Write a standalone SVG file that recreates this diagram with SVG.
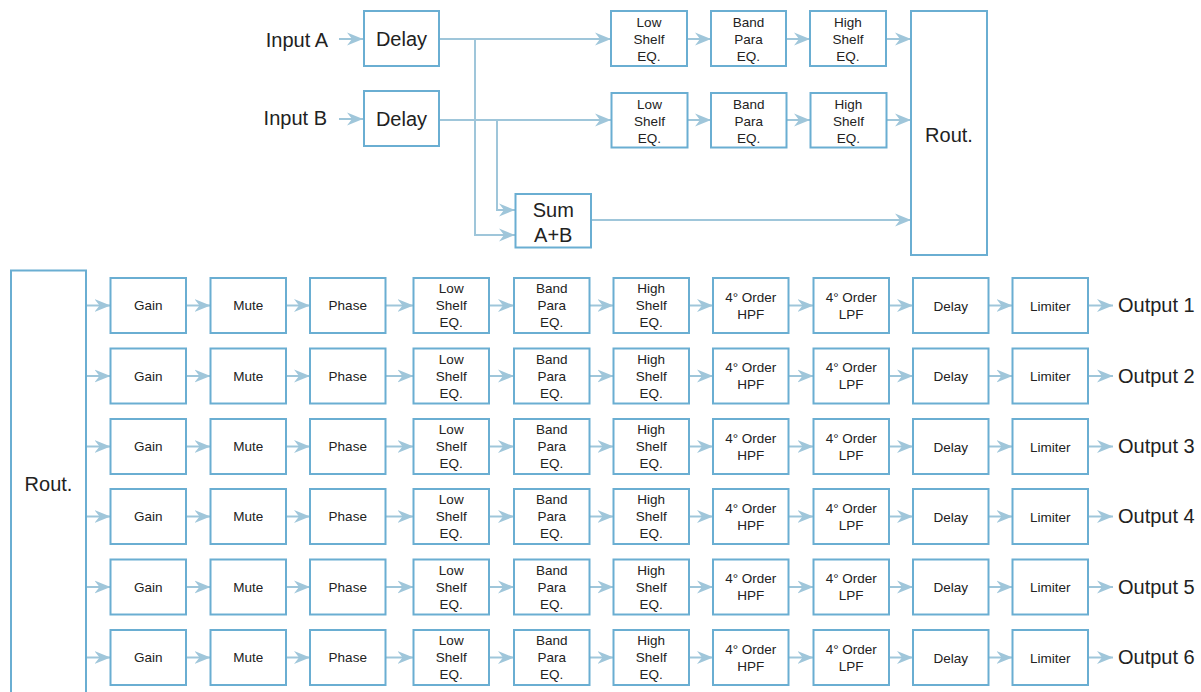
<svg xmlns="http://www.w3.org/2000/svg" width="1201" height="692" viewBox="0 0 1201 692">
<defs>
<style>
.b{fill:#fff;stroke:#6aaed2;stroke-width:2}
.c{fill:none;stroke:#9fc6da;stroke-width:2;marker-end:url(#ah)}
text{font-family:"Liberation Sans",Arial,sans-serif;fill:#222;text-anchor:middle;dominant-baseline:central}
.L{font-size:20px}
.s{font-size:13.5px}
.o{font-size:20px;text-anchor:start}
.i{font-size:20px;text-anchor:end}
</style>
<marker id="ah" markerUnits="userSpaceOnUse" markerWidth="17" markerHeight="14" refX="16" refY="7" orient="auto">
<path d="M0,0.5 L16,7 L0,13.5 L5,7 Z" fill="#9fc6da"/>
</marker>
</defs>
<rect width="1201" height="692" fill="#fff"/>
<g id="connectors">
<path class="c" d="M339,39 H363"/>
<path class="c" d="M339,119 H363"/>
<path class="c" d="M440,39 H611"/>
<path class="c" d="M475,39 V235 H515"/>
<path class="c" d="M440,120 H611"/>
<path class="c" d="M497,120 V210 H515"/>
<path class="c" d="M687,39 H711"/>
<path class="c" d="M786,39 H810"/>
<path class="c" d="M886,39 H911"/>
<path class="c" d="M687,120 H711"/>
<path class="c" d="M786,120 H810"/>
<path class="c" d="M886,120 H911"/>
<path class="c" d="M591,220 H911"/>
<path class="c" d="M87,305.5 H110.5"/><path class="c" d="M186,305.5 H210.5"/><path class="c" d="M286,305.5 H310"/><path class="c" d="M386,305.5 H413.5"/><path class="c" d="M489,305.5 H514"/><path class="c" d="M590,305.5 H613.5"/><path class="c" d="M689,305.5 H713"/><path class="c" d="M789,305.5 H813.5"/><path class="c" d="M889,305.5 H913"/><path class="c" d="M989,305.5 H1012.5"/><path class="c" d="M1088,305.5 H1113"/>
<path class="c" d="M87,376 H110.5"/><path class="c" d="M186,376 H210.5"/><path class="c" d="M286,376 H310"/><path class="c" d="M386,376 H413.5"/><path class="c" d="M489,376 H514"/><path class="c" d="M590,376 H613.5"/><path class="c" d="M689,376 H713"/><path class="c" d="M789,376 H813.5"/><path class="c" d="M889,376 H913"/><path class="c" d="M989,376 H1012.5"/><path class="c" d="M1088,376 H1113"/>
<path class="c" d="M87,446.5 H110.5"/><path class="c" d="M186,446.5 H210.5"/><path class="c" d="M286,446.5 H310"/><path class="c" d="M386,446.5 H413.5"/><path class="c" d="M489,446.5 H514"/><path class="c" d="M590,446.5 H613.5"/><path class="c" d="M689,446.5 H713"/><path class="c" d="M789,446.5 H813.5"/><path class="c" d="M889,446.5 H913"/><path class="c" d="M989,446.5 H1012.5"/><path class="c" d="M1088,446.5 H1113"/>
<path class="c" d="M87,516.5 H110.5"/><path class="c" d="M186,516.5 H210.5"/><path class="c" d="M286,516.5 H310"/><path class="c" d="M386,516.5 H413.5"/><path class="c" d="M489,516.5 H514"/><path class="c" d="M590,516.5 H613.5"/><path class="c" d="M689,516.5 H713"/><path class="c" d="M789,516.5 H813.5"/><path class="c" d="M889,516.5 H913"/><path class="c" d="M989,516.5 H1012.5"/><path class="c" d="M1088,516.5 H1113"/>
<path class="c" d="M87,587 H110.5"/><path class="c" d="M186,587 H210.5"/><path class="c" d="M286,587 H310"/><path class="c" d="M386,587 H413.5"/><path class="c" d="M489,587 H514"/><path class="c" d="M590,587 H613.5"/><path class="c" d="M689,587 H713"/><path class="c" d="M789,587 H813.5"/><path class="c" d="M889,587 H913"/><path class="c" d="M989,587 H1012.5"/><path class="c" d="M1088,587 H1113"/>
<path class="c" d="M87,657.5 H110.5"/><path class="c" d="M186,657.5 H210.5"/><path class="c" d="M286,657.5 H310"/><path class="c" d="M386,657.5 H413.5"/><path class="c" d="M489,657.5 H514"/><path class="c" d="M590,657.5 H613.5"/><path class="c" d="M689,657.5 H713"/><path class="c" d="M789,657.5 H813.5"/><path class="c" d="M889,657.5 H913"/><path class="c" d="M989,657.5 H1012.5"/><path class="c" d="M1088,657.5 H1113"/>
</g>
<g id="inputA"><text class="i" x="328" y="40">Input A</text></g>
<g id="inputB"><text class="i" x="327" y="118">Input B</text></g>
<g id="delayA" transform="translate(364,11)"><rect class="b" width="75" height="55"/><text class="L" x="37.5" y="28">Delay</text></g>
<g id="delayB" transform="translate(364,91)"><rect class="b" width="75" height="55"/><text class="L" x="37.5" y="28">Delay</text></g>
<g id="sum" transform="translate(515.5,194)"><rect class="b" width="75.5" height="53.5"/><text class="L" x="37.75" y="16">Sum</text><text class="L" x="37.75" y="41">A+B</text></g>
<g id="a-low" transform="translate(611,11)"><rect class="b" width="76" height="55"/><text class="s" x="38" y="11">Low</text><text class="s" x="38" y="28">Shelf</text><text class="s" x="38" y="45">EQ.</text></g>
<g id="a-band" transform="translate(711,11)"><rect class="b" width="75" height="55"/><text class="s" x="37.5" y="11">Band</text><text class="s" x="37.5" y="28">Para</text><text class="s" x="37.5" y="45">EQ.</text></g>
<g id="a-high" transform="translate(810,11)"><rect class="b" width="76" height="55"/><text class="s" x="38" y="11">High</text><text class="s" x="38" y="28">Shelf</text><text class="s" x="38" y="45">EQ.</text></g>
<g id="b-low" transform="translate(611.5,93)"><rect class="b" width="76" height="54.5"/><text class="s" x="38" y="11">Low</text><text class="s" x="38" y="28">Shelf</text><text class="s" x="38" y="45">EQ.</text></g>
<g id="b-band" transform="translate(711,93)"><rect class="b" width="75.5" height="54.5"/><text class="s" x="37.75" y="11">Band</text><text class="s" x="37.75" y="28">Para</text><text class="s" x="37.75" y="45">EQ.</text></g>
<g id="b-high" transform="translate(810.5,93)"><rect class="b" width="76" height="54.5"/><text class="s" x="38" y="11">High</text><text class="s" x="38" y="28">Shelf</text><text class="s" x="38" y="45">EQ.</text></g>
<g id="rout-top" transform="translate(911,11)"><rect class="b" width="76" height="244"/><text class="L" x="38" y="124">Rout.</text></g>
<g id="rout-bottom" transform="translate(11,270.5)"><rect class="b" width="75" height="440"/><text class="L" x="37.5" y="213.5">Rout.</text></g>

<g id="r1-gain" transform="translate(110.5,278)"><rect class="b" width="75.5" height="55"/><text class="s" x="37.75" y="27.5">Gain</text></g>
<g id="r1-mute" transform="translate(210.5,278)"><rect class="b" width="75.5" height="55"/><text class="s" x="37.75" y="27.5">Mute</text></g>
<g id="r1-phase" transform="translate(310,278)"><rect class="b" width="75.5" height="55"/><text class="s" x="37.75" y="27.5">Phase</text></g>
<g id="r1-low" transform="translate(413.5,278)"><rect class="b" width="75.5" height="55"/><text class="s" x="37.75" y="10.5">Low</text><text class="s" x="37.75" y="27.5">Shelf</text><text class="s" x="37.75" y="44.5">EQ.</text></g>
<g id="r1-band" transform="translate(514,278)"><rect class="b" width="75.5" height="55"/><text class="s" x="37.75" y="10.5">Band</text><text class="s" x="37.75" y="27.5">Para</text><text class="s" x="37.75" y="44.5">EQ.</text></g>
<g id="r1-high" transform="translate(613.5,278)"><rect class="b" width="75.5" height="55"/><text class="s" x="37.75" y="10.5">High</text><text class="s" x="37.75" y="27.5">Shelf</text><text class="s" x="37.75" y="44.5">EQ.</text></g>
<g id="r1-hpf" transform="translate(713,278)"><rect class="b" width="75.5" height="55"/><text class="s" x="37.75" y="19">4° Order</text><text class="s" x="37.75" y="36">HPF</text></g>
<g id="r1-lpf" transform="translate(813.5,278)"><rect class="b" width="75.5" height="55"/><text class="s" x="37.75" y="19">4° Order</text><text class="s" x="37.75" y="36">LPF</text></g>
<g id="r1-delay" transform="translate(913,278)"><rect class="b" width="75.5" height="55"/><text class="s" x="37.75" y="28">Delay</text></g>
<g id="r1-limiter" transform="translate(1012.5,278)"><rect class="b" width="75.5" height="55"/><text class="s" x="37.75" y="28">Limiter</text></g>
<g id="out1"><text class="o" x="1118" y="305">Output 1</text></g>

<g id="r2-gain" transform="translate(110.5,348.5)"><rect class="b" width="75.5" height="55"/><text class="s" x="37.75" y="27.5">Gain</text></g>
<g id="r2-mute" transform="translate(210.5,348.5)"><rect class="b" width="75.5" height="55"/><text class="s" x="37.75" y="27.5">Mute</text></g>
<g id="r2-phase" transform="translate(310,348.5)"><rect class="b" width="75.5" height="55"/><text class="s" x="37.75" y="27.5">Phase</text></g>
<g id="r2-low" transform="translate(413.5,348.5)"><rect class="b" width="75.5" height="55"/><text class="s" x="37.75" y="10.5">Low</text><text class="s" x="37.75" y="27.5">Shelf</text><text class="s" x="37.75" y="44.5">EQ.</text></g>
<g id="r2-band" transform="translate(514,348.5)"><rect class="b" width="75.5" height="55"/><text class="s" x="37.75" y="10.5">Band</text><text class="s" x="37.75" y="27.5">Para</text><text class="s" x="37.75" y="44.5">EQ.</text></g>
<g id="r2-high" transform="translate(613.5,348.5)"><rect class="b" width="75.5" height="55"/><text class="s" x="37.75" y="10.5">High</text><text class="s" x="37.75" y="27.5">Shelf</text><text class="s" x="37.75" y="44.5">EQ.</text></g>
<g id="r2-hpf" transform="translate(713,348.5)"><rect class="b" width="75.5" height="55"/><text class="s" x="37.75" y="19">4° Order</text><text class="s" x="37.75" y="36">HPF</text></g>
<g id="r2-lpf" transform="translate(813.5,348.5)"><rect class="b" width="75.5" height="55"/><text class="s" x="37.75" y="19">4° Order</text><text class="s" x="37.75" y="36">LPF</text></g>
<g id="r2-delay" transform="translate(913,348.5)"><rect class="b" width="75.5" height="55"/><text class="s" x="37.75" y="28">Delay</text></g>
<g id="r2-limiter" transform="translate(1012.5,348.5)"><rect class="b" width="75.5" height="55"/><text class="s" x="37.75" y="28">Limiter</text></g>
<g id="out2"><text class="o" x="1118" y="375.5">Output 2</text></g>

<g id="r3-gain" transform="translate(110.5,419)"><rect class="b" width="75.5" height="55"/><text class="s" x="37.75" y="27.5">Gain</text></g>
<g id="r3-mute" transform="translate(210.5,419)"><rect class="b" width="75.5" height="55"/><text class="s" x="37.75" y="27.5">Mute</text></g>
<g id="r3-phase" transform="translate(310,419)"><rect class="b" width="75.5" height="55"/><text class="s" x="37.75" y="27.5">Phase</text></g>
<g id="r3-low" transform="translate(413.5,419)"><rect class="b" width="75.5" height="55"/><text class="s" x="37.75" y="10.5">Low</text><text class="s" x="37.75" y="27.5">Shelf</text><text class="s" x="37.75" y="44.5">EQ.</text></g>
<g id="r3-band" transform="translate(514,419)"><rect class="b" width="75.5" height="55"/><text class="s" x="37.75" y="10.5">Band</text><text class="s" x="37.75" y="27.5">Para</text><text class="s" x="37.75" y="44.5">EQ.</text></g>
<g id="r3-high" transform="translate(613.5,419)"><rect class="b" width="75.5" height="55"/><text class="s" x="37.75" y="10.5">High</text><text class="s" x="37.75" y="27.5">Shelf</text><text class="s" x="37.75" y="44.5">EQ.</text></g>
<g id="r3-hpf" transform="translate(713,419)"><rect class="b" width="75.5" height="55"/><text class="s" x="37.75" y="19">4° Order</text><text class="s" x="37.75" y="36">HPF</text></g>
<g id="r3-lpf" transform="translate(813.5,419)"><rect class="b" width="75.5" height="55"/><text class="s" x="37.75" y="19">4° Order</text><text class="s" x="37.75" y="36">LPF</text></g>
<g id="r3-delay" transform="translate(913,419)"><rect class="b" width="75.5" height="55"/><text class="s" x="37.75" y="28">Delay</text></g>
<g id="r3-limiter" transform="translate(1012.5,419)"><rect class="b" width="75.5" height="55"/><text class="s" x="37.75" y="28">Limiter</text></g>
<g id="out3"><text class="o" x="1118" y="446">Output 3</text></g>

<g id="r4-gain" transform="translate(110.5,489)"><rect class="b" width="75.5" height="55"/><text class="s" x="37.75" y="27.5">Gain</text></g>
<g id="r4-mute" transform="translate(210.5,489)"><rect class="b" width="75.5" height="55"/><text class="s" x="37.75" y="27.5">Mute</text></g>
<g id="r4-phase" transform="translate(310,489)"><rect class="b" width="75.5" height="55"/><text class="s" x="37.75" y="27.5">Phase</text></g>
<g id="r4-low" transform="translate(413.5,489)"><rect class="b" width="75.5" height="55"/><text class="s" x="37.75" y="10.5">Low</text><text class="s" x="37.75" y="27.5">Shelf</text><text class="s" x="37.75" y="44.5">EQ.</text></g>
<g id="r4-band" transform="translate(514,489)"><rect class="b" width="75.5" height="55"/><text class="s" x="37.75" y="10.5">Band</text><text class="s" x="37.75" y="27.5">Para</text><text class="s" x="37.75" y="44.5">EQ.</text></g>
<g id="r4-high" transform="translate(613.5,489)"><rect class="b" width="75.5" height="55"/><text class="s" x="37.75" y="10.5">High</text><text class="s" x="37.75" y="27.5">Shelf</text><text class="s" x="37.75" y="44.5">EQ.</text></g>
<g id="r4-hpf" transform="translate(713,489)"><rect class="b" width="75.5" height="55"/><text class="s" x="37.75" y="19">4° Order</text><text class="s" x="37.75" y="36">HPF</text></g>
<g id="r4-lpf" transform="translate(813.5,489)"><rect class="b" width="75.5" height="55"/><text class="s" x="37.75" y="19">4° Order</text><text class="s" x="37.75" y="36">LPF</text></g>
<g id="r4-delay" transform="translate(913,489)"><rect class="b" width="75.5" height="55"/><text class="s" x="37.75" y="28">Delay</text></g>
<g id="r4-limiter" transform="translate(1012.5,489)"><rect class="b" width="75.5" height="55"/><text class="s" x="37.75" y="28">Limiter</text></g>
<g id="out4"><text class="o" x="1118" y="516">Output 4</text></g>

<g id="r5-gain" transform="translate(110.5,559.5)"><rect class="b" width="75.5" height="55"/><text class="s" x="37.75" y="27.5">Gain</text></g>
<g id="r5-mute" transform="translate(210.5,559.5)"><rect class="b" width="75.5" height="55"/><text class="s" x="37.75" y="27.5">Mute</text></g>
<g id="r5-phase" transform="translate(310,559.5)"><rect class="b" width="75.5" height="55"/><text class="s" x="37.75" y="27.5">Phase</text></g>
<g id="r5-low" transform="translate(413.5,559.5)"><rect class="b" width="75.5" height="55"/><text class="s" x="37.75" y="10.5">Low</text><text class="s" x="37.75" y="27.5">Shelf</text><text class="s" x="37.75" y="44.5">EQ.</text></g>
<g id="r5-band" transform="translate(514,559.5)"><rect class="b" width="75.5" height="55"/><text class="s" x="37.75" y="10.5">Band</text><text class="s" x="37.75" y="27.5">Para</text><text class="s" x="37.75" y="44.5">EQ.</text></g>
<g id="r5-high" transform="translate(613.5,559.5)"><rect class="b" width="75.5" height="55"/><text class="s" x="37.75" y="10.5">High</text><text class="s" x="37.75" y="27.5">Shelf</text><text class="s" x="37.75" y="44.5">EQ.</text></g>
<g id="r5-hpf" transform="translate(713,559.5)"><rect class="b" width="75.5" height="55"/><text class="s" x="37.75" y="19">4° Order</text><text class="s" x="37.75" y="36">HPF</text></g>
<g id="r5-lpf" transform="translate(813.5,559.5)"><rect class="b" width="75.5" height="55"/><text class="s" x="37.75" y="19">4° Order</text><text class="s" x="37.75" y="36">LPF</text></g>
<g id="r5-delay" transform="translate(913,559.5)"><rect class="b" width="75.5" height="55"/><text class="s" x="37.75" y="28">Delay</text></g>
<g id="r5-limiter" transform="translate(1012.5,559.5)"><rect class="b" width="75.5" height="55"/><text class="s" x="37.75" y="28">Limiter</text></g>
<g id="out5"><text class="o" x="1118" y="586.5">Output 5</text></g>

<g id="r6-gain" transform="translate(110.5,630)"><rect class="b" width="75.5" height="55"/><text class="s" x="37.75" y="27.5">Gain</text></g>
<g id="r6-mute" transform="translate(210.5,630)"><rect class="b" width="75.5" height="55"/><text class="s" x="37.75" y="27.5">Mute</text></g>
<g id="r6-phase" transform="translate(310,630)"><rect class="b" width="75.5" height="55"/><text class="s" x="37.75" y="27.5">Phase</text></g>
<g id="r6-low" transform="translate(413.5,630)"><rect class="b" width="75.5" height="55"/><text class="s" x="37.75" y="10.5">Low</text><text class="s" x="37.75" y="27.5">Shelf</text><text class="s" x="37.75" y="44.5">EQ.</text></g>
<g id="r6-band" transform="translate(514,630)"><rect class="b" width="75.5" height="55"/><text class="s" x="37.75" y="10.5">Band</text><text class="s" x="37.75" y="27.5">Para</text><text class="s" x="37.75" y="44.5">EQ.</text></g>
<g id="r6-high" transform="translate(613.5,630)"><rect class="b" width="75.5" height="55"/><text class="s" x="37.75" y="10.5">High</text><text class="s" x="37.75" y="27.5">Shelf</text><text class="s" x="37.75" y="44.5">EQ.</text></g>
<g id="r6-hpf" transform="translate(713,630)"><rect class="b" width="75.5" height="55"/><text class="s" x="37.75" y="19">4° Order</text><text class="s" x="37.75" y="36">HPF</text></g>
<g id="r6-lpf" transform="translate(813.5,630)"><rect class="b" width="75.5" height="55"/><text class="s" x="37.75" y="19">4° Order</text><text class="s" x="37.75" y="36">LPF</text></g>
<g id="r6-delay" transform="translate(913,630)"><rect class="b" width="75.5" height="55"/><text class="s" x="37.75" y="28">Delay</text></g>
<g id="r6-limiter" transform="translate(1012.5,630)"><rect class="b" width="75.5" height="55"/><text class="s" x="37.75" y="28">Limiter</text></g>
<g id="out6"><text class="o" x="1118" y="657">Output 6</text></g>
</svg>
